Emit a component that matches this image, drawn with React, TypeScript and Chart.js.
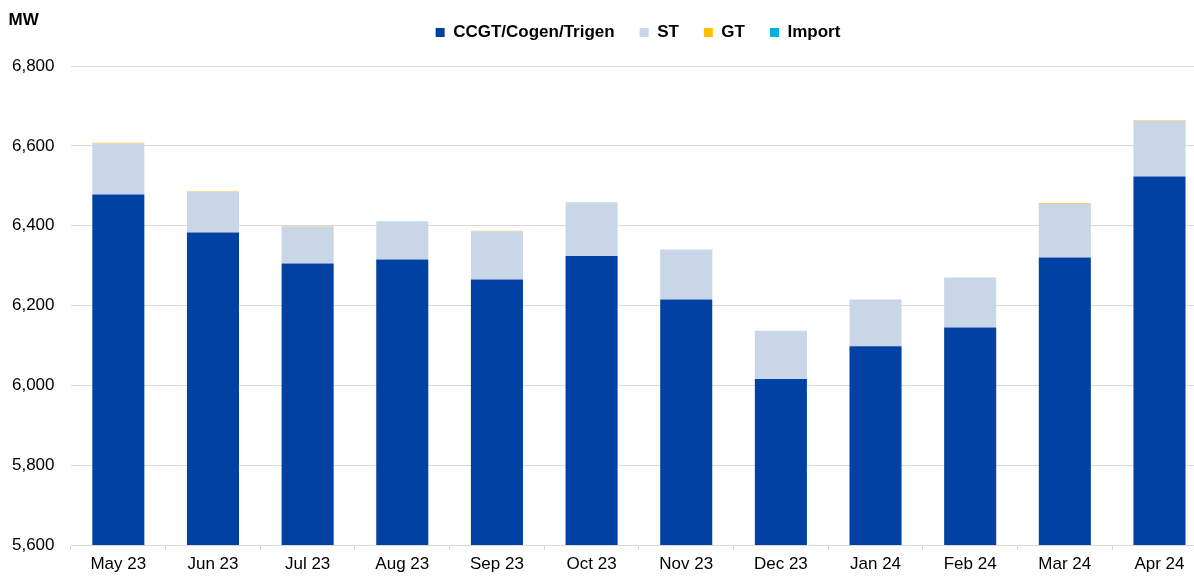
import React, { useEffect, useRef } from "react";
import { Chart, registerables } from "chart.js";

Chart.register(...registerables);

const categories = ["May 23", "Jun 23", "Jul 23", "Aug 23", "Sep 23", "Oct 23", "Nov 23", "Dec 23", "Jan 24", "Feb 24", "Mar 24", "Apr 24"];
const ccgtValues = [6478, 6383, 6305, 6315, 6265, 6324, 6215, 6016, 6098, 6145, 6320, 6523];
const stValues = [128, 102, 93, 94, 121, 132, 125, 121, 117, 125, 135, 140];
const gtValues = [1.5, 1, 1, 0, 1, 0.7, 0, 0, 0, 0, 1.5, 1];
const importValues = [0, 0, 0, 0.7, 0, 0.7, 0, 0, 0, 0, 0, 0];

const seriesNames = ["CCGT/Cogen/Trigen", "ST", "GT", "Import"];
const seriesColors = ["#0041A3", "#C8D6E8", "#FFC000", "#00B0DF"];

const yMin = 5600;
const yMax = 6800;
const yStep = 200;
const unitLabel = "MW";

const FONT = '"Liberation Sans", Arial, Helvetica, sans-serif';

export default function App() {
  const canvasRef = useRef<HTMLCanvasElement | null>(null);

  useEffect(() => {
    if (!canvasRef.current) return;
    Chart.defaults.font.family = FONT;

    const unitPlugin = {
      id: "unitLabel",
      afterDraw(chart: any) {
        const ctx = chart.ctx;
        ctx.save();
        ctx.font = `bold 17px ${FONT}`;
        ctx.fillStyle = "#000";
        ctx.textAlign = "left";
        ctx.textBaseline = "middle";
        ctx.fillText(unitLabel, 8.5, 20);
        ctx.restore();
      },
    };

    const series = [ccgtValues, stValues, gtValues, importValues];
    const chart = new Chart(canvasRef.current, {
      type: "bar",
      data: {
        labels: categories,
        datasets: series.map((vals, i) => ({
          label: seriesNames[i],
          data: vals,
          backgroundColor: seriesColors[i],
          borderWidth: 0,
          barPercentage: 0.55,
          categoryPercentage: 1,
          xAxisID: "x",
          yAxisID: "y",
        })),
      },
      plugins: [unitPlugin],
      options: {
        responsive: false,
        animation: false,
        locale: "en-US",
        layout: { padding: { left: 0, right: 0, top: -1, bottom: -2.4 } },
        plugins: {
          tooltip: { enabled: false },
          title: { display: false },
          legend: {
            display: true,
            position: "top",
            align: "center",
            labels: {
              boxWidth: 9,
              boxHeight: 9,
              padding: 25,
              color: "#000",
              font: { size: 17, weight: "bold", family: FONT },
            },
          },
        },
        scales: {
          x: {
            type: "category",
            position: "bottom",
            stacked: true,
            offset: true,
            grid: {
              display: true,
              drawOnChartArea: false,
              drawTicks: true,
              tickLength: 5,
              color: "#D9D9D9",
              offset: true,
            },
            border: { display: true, color: "#D9D9D9", width: 1 },
            ticks: {
              color: "#000",
              padding: 4,
              maxRotation: 0,
              autoSkip: false,
              font: { size: 17, family: FONT },
            },
          },
          xTop: {
            type: "category",
            position: "top",
            display: true,
            grid: { display: false },
            border: { display: false },
            ticks: { display: false },
            afterFit: (s: any) => {
              s.height = 15;
            },
          },
          y: {
            type: "linear",
            position: "left",
            stacked: true,
            min: yMin,
            max: yMax,
            grid: { color: "#D9D9D9", lineWidth: 1, drawTicks: false },
            border: { display: false },
            ticks: {
              stepSize: yStep,
              color: "#000",
              padding: 16.5,
              font: { size: 17, family: FONT },
              callback: (v: any) => Number(v).toLocaleString("en-US"),
            },
            afterFit: (s: any) => {
              s.width = 71;
            },
          },
          yRight: {
            type: "linear",
            position: "right",
            display: true,
            grid: { display: false },
            border: { display: false },
            ticks: { display: false },
            afterFit: (s: any) => {
              s.width = 69.2;
            },
          },
        },
      } as any,
    });

    return () => {
      chart.destroy();
    };
  }, []);

  return (
    <div
      style={{
        position: "fixed",
        left: 0,
        top: 0,
        width: 1194,
        height: 576,
        overflow: "hidden",
        background: "#fff",
      }}
    >
      <canvas ref={canvasRef} width={1276} height={576} style={{ display: "block", width: 1276, height: 576 }} />
    </div>
  );
}
